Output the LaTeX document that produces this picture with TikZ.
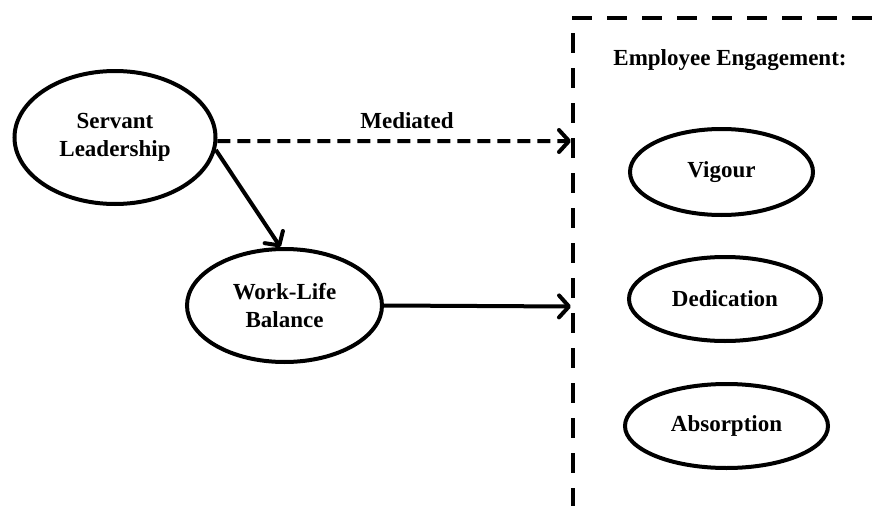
\documentclass[tikz,border=0pt]{standalone}
\usepackage{fontspec}
\setmainfont{Liberation Serif}
\usetikzlibrary{shapes.geometric,arrows.meta}
\begin{document}
\begin{tikzpicture}[x=1pt,y=-1pt,
  oval/.style={ellipse,draw,line width=4pt,inner sep=0pt,align=center,
    font=\fontsize{23}{28}\selectfont\bfseries},
  lbl/.style={inner sep=0pt,font=\fontsize{23}{28}\selectfont\bfseries},
  arr/.style={line width=4pt,-{Straight Barb[length=10pt,width=22pt,line cap=round,line join=round]}},
  boxline/.style={line width=4pt,dash pattern=on 20pt off 15pt}]
\useasboundingbox (0,0) rectangle (887,506);
% nodes
\node[oval,minimum width=201pt,minimum height=133pt] (SL) at (115,137.5) {Servant\\Leadership};
\node[oval,minimum width=195pt,minimum height=113pt] (WL) at (284.5,305.5) {Work-Life\\Balance};
\node[oval,minimum width=183pt,minimum height=86pt] (VI) at (721.5,172) {Vigour};
\node[oval,minimum width=192pt,minimum height=84pt] (DE) at (725,299) {Dedication};
\node[oval,minimum width=203pt,minimum height=84pt] (AB) at (726.5,426) {Absorption};
\node[lbl] (EE) at (730,60) {Employee Engagement:};
\node[lbl] (MED) at (407,121) {Mediated};
% dashed box
\coordinate (BTL) at (573,18);
\coordinate (BTS) at (572,18);
\coordinate (BTR) at (890,18);
\coordinate (BBL) at (573,510);
\draw[boxline] (BTS) -- (BTR);
\draw[boxline,dash phase=20pt] (BTL) -- (BBL);
% arrow end points on the box
\coordinate (medEnd) at (571,141);
\coordinate (wlEnd) at (571,306.5);
% connectors
\draw[arr,dash pattern=on 13pt off 7pt] (SL.-2) -- (medEnd);
\draw[arr] (SL.-7) -- (WL.94);
\draw[arr] (WL.east) -- (wlEnd);
\end{tikzpicture}
\end{document}
